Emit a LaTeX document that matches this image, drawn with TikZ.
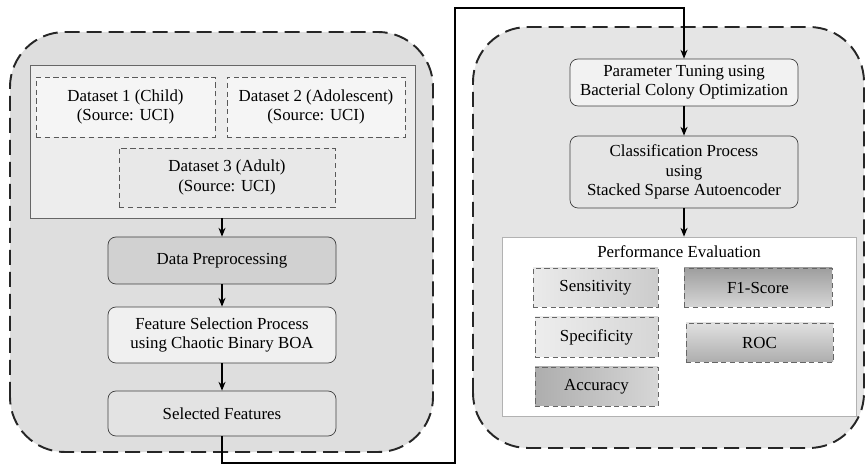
\documentclass[tikz,border=0pt]{standalone}
\usepackage{fontspec}
\setmainfont{Liberation Serif}
\usetikzlibrary{arrows.meta}
\tikzset{
 stage/.style={draw=black!75,thin,rounded corners=0.16cm,align=center,minimum width=4.56cm},
 dsbox/.style={draw=black!65,densely dashed,thin,fill=black!4,align=center,minimum height=1.2cm},
 metric/.style={draw=black!60,densely dashed,thin,minimum height=0.78cm},
 group/.style={draw=black!85,line width=1.1pt,dash pattern=on 0.3cm off 0.14cm,rounded corners=1.1cm},
 flow/.style={-{Stealth[length=5pt,width=4pt]},line width=0.8pt}
}
\begin{document}
\begin{tikzpicture}[font=\fontsize{9.6}{11}\selectfont]
\useasboundingbox (0,0) rectangle (17.3,9.5);
% the two phases
\draw[group,fill=black!13] (0.2,0.46) rectangle (8.66,8.86);
\draw[group,fill=black!10] (9.46,0.54) rectangle (17.28,8.96);

% datasets
\node[draw=black!60,fill=black!7,minimum width=7.7cm,minimum height=3.06cm] (data) at (4.45,6.67) {};
\node[dsbox,minimum width=3.58cm] (ds1) at (2.51,7.36) {Dataset 1 (Child)\\(Source: UCI)};
\node[dsbox,minimum width=3.56cm] (ds2) at (6.32,7.36) {Dataset 2 (Adolescent)\\(Source: UCI)};
\node[dsbox,fill=black!9,minimum width=4.32cm,minimum height=1.18cm] (ds3) at (4.54,5.95) {Dataset 3 (Adult)\\(Source: UCI)};

% left column
\node[stage,fill=black!18,minimum height=0.94cm] (prep) at (4.44,4.29) {Data Preprocessing};
\node[stage,fill=black!6,minimum height=1.12cm] (fsel) at (4.44,2.8) {Feature Selection Process\\using Chaotic Binary BOA};
\node[stage,fill=black!11,minimum height=0.9cm] (feat) at (4.44,1.23) {Selected Features};

% right column
\node[stage,fill=black!5,minimum height=0.94cm] (tune) at (13.68,7.85) {Parameter Tuning using\\Bacterial Colony Optimization};
\node[stage,fill=black!10,minimum height=1.44cm] (clf) at (13.68,6.06) {Classification Process\\using\\Stacked Sparse Autoencoder};
\node[draw=black!30,fill=white,minimum width=7.08cm,minimum height=3.58cm] (perf) at (13.58,2.97) {};
\node (perftitle) at (13.58,4.46) {Performance Evaluation};
\node[metric,left color=black!8,right color=black!20,minimum width=2.5cm] (sens) at (11.91,3.75) {Sensitivity};
\node[metric,left color=black!7,right color=black!16,minimum width=2.46cm,minimum height=0.8cm] (spec) at (11.93,2.76) {Specificity};
\node[metric,left color=black!32,right color=black!16,minimum width=2.46cm] (acc) at (11.93,1.77) {Accuracy};
\node[metric,top color=black!38,bottom color=black!16,minimum width=2.96cm] (f1) at (15.16,3.75) {F1-Score};
\node[metric,top color=black!12,bottom color=black!32,minimum width=2.94cm] (roc) at (15.19,2.65) {ROC};

% connectors
\coordinate (c1) at (4.44,0.24);
\coordinate (c2) at (9.1,0.24);
\coordinate (c3) at (9.1,9.34);
\coordinate (c4) at (13.68,9.34);
\draw[flow] (data.south -| prep.north) -- (prep);
\draw[flow] (prep) -- (fsel);
\draw[flow] (fsel) -- (feat);
\draw[flow] (feat.south) -- (c1) -- (c2) -- (c3) -- (c4) -- (tune.north);
\draw[flow] (tune) -- (clf);
\draw[flow] (clf.south) -- (clf.south |- perf.north);
\end{tikzpicture}
\end{document}
